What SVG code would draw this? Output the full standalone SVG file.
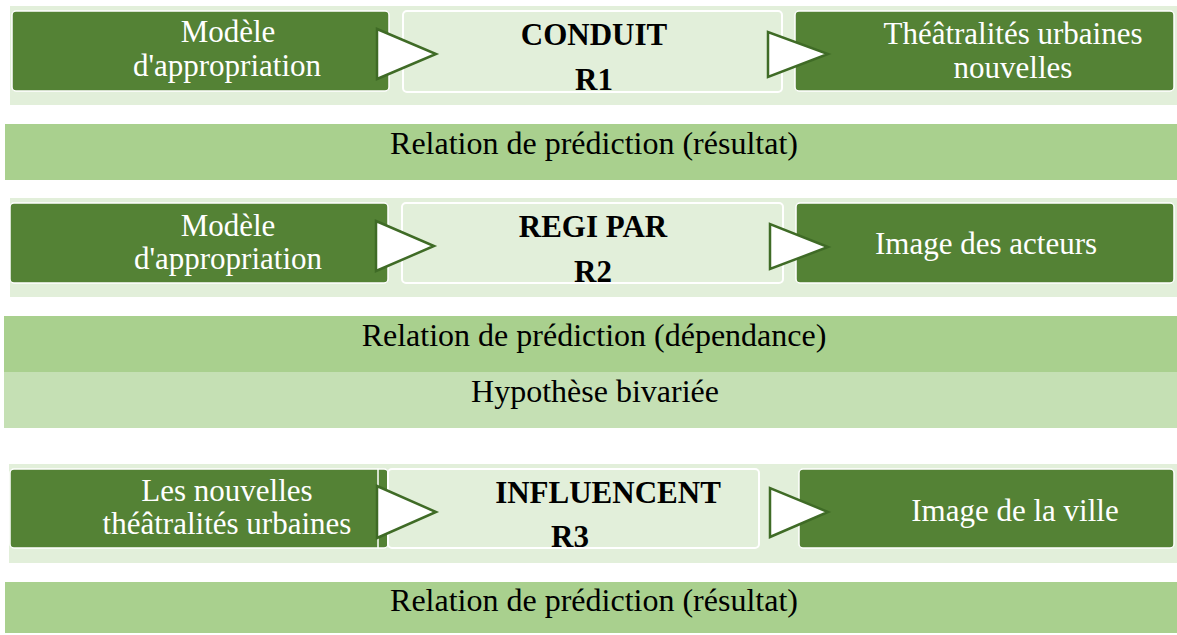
<svg xmlns="http://www.w3.org/2000/svg" width="1177" height="635" viewBox="0 0 1177 635">
<style>
.bg{fill:#e2efda}
.dark{fill:#548235;stroke:#ffffff;stroke-width:1.5}
.mid{fill:#e2efda;stroke:#ffffff;stroke-width:2}
.tri{fill:#ffffff;stroke:#3f6b26;stroke-width:2.5;stroke-linejoin:miter}
.band1{fill:#a9d08e}
.band2{fill:#c5e0b4}
text{font-family:"Liberation Serif","Times New Roman",serif;font-size:31px;text-anchor:middle}
.w{fill:#ffffff}
.k{fill:#000000;font-size:32px}
.b{font-weight:bold;fill:#000000}
</style>
<rect width="1177" height="635" fill="#ffffff"/>
<!-- row backgrounds -->
<rect class="bg" x="10" y="6" width="1167" height="99"/>
<rect class="bg" x="10" y="198" width="1167" height="99"/>
<rect class="bg" x="9" y="464" width="1168" height="99"/>
<!-- bands -->
<g id="band1"><rect class="band1" x="5" y="124" width="1172" height="56"/><text class="k" x="594" y="154">Relation de prédiction (résultat)</text></g>
<g id="band2"><rect class="band1" x="4" y="316" width="1173" height="56"/><text class="k" x="594" y="346">Relation de prédiction (dépendance)</text></g>
<g id="band2b"><rect class="band2" x="4" y="372" width="1173" height="56"/><text class="k" x="595" y="402">Hypothèse bivariée</text></g>
<g id="band3"><rect class="band1" x="5" y="582" width="1172" height="51"/><text class="k" x="594" y="611">Relation de prédiction (résultat)</text></g>
<!-- row 1 -->
<g id="r1-left"><rect class="dark" x="12" y="11" width="377" height="80" rx="4"/><text class="w" x="228" y="42">Modèle</text><text class="w" x="227" y="76">d'appropriation</text></g>
<g id="r1-mid"><rect class="mid" x="403" y="11" width="379" height="81" rx="4"/><text class="b" x="594" y="45">CONDUIT</text><text class="b" x="594" y="90">R1</text></g>
<g id="r1-right"><rect class="dark" x="795" y="11" width="379" height="80" rx="4"/><text class="w" x="1013" y="44">Théâtralités urbaines</text><text class="w" x="1013" y="78">nouvelles</text></g>
<!-- row 2 -->
<g id="r2-left"><rect class="dark" x="10" y="203" width="378" height="80" rx="4"/><text class="w" x="228" y="236">Modèle</text><text class="w" x="228" y="269">d'appropriation</text></g>
<g id="r2-mid"><rect class="mid" x="402" y="203" width="381" height="80" rx="4"/><text class="b" x="593" y="237">REGI PAR</text><text class="b" x="593" y="282">R2</text></g>
<g id="r2-right"><rect class="dark" x="796" y="203" width="378" height="80" rx="4"/><text class="w" x="986" y="254">Image des acteurs</text></g>
<!-- row 3 -->
<g id="r3-left"><rect class="dark" x="10" y="469" width="378" height="79" rx="4"/><line x1="378" y1="469" x2="378" y2="548" stroke="#ffffff" stroke-width="1.5"/><text class="w" x="227" y="501">Les nouvelles</text><text class="w" x="227" y="534">théâtralités urbaines</text></g>
<g id="r3-mid"><rect class="mid" x="388" y="469" width="371" height="79" rx="4"/><text class="b" x="608" y="503">INFLUENCENT</text><text class="b" x="570" y="547">R3</text></g>
<g id="r3-right"><rect class="dark" x="799" y="469" width="375" height="79" rx="4"/><text class="w" x="1015" y="521">Image de la ville</text></g>
<!-- connectors -->
<g id="connectors">
<polygon class="tri" points="377,29 377,79 436,54"/>
<polygon class="tri" points="768,32 768,77 828,54"/>
<polygon class="tri" points="376,221 376,271 434,246"/>
<polygon class="tri" points="770,224 770,269 828,247"/>
<polygon class="tri" points="377,486 377,538 436,512"/>
<polygon class="tri" points="770,488 770,537 828,512"/>
</g>
</svg>
